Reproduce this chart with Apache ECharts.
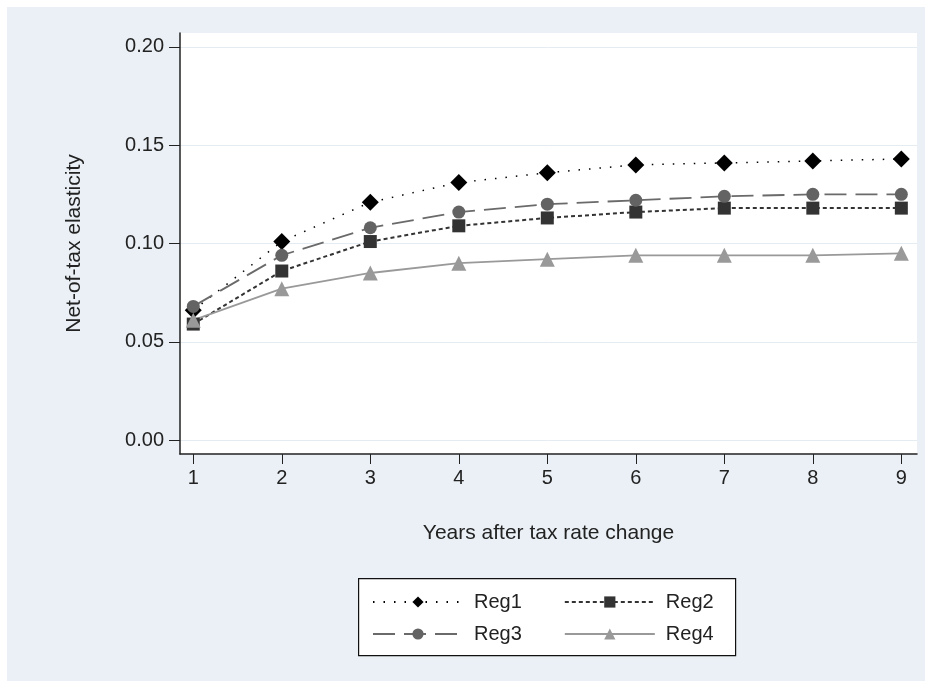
<!DOCTYPE html>
<html>
<head>
<meta charset="utf-8">
<script src="https://cdn.jsdelivr.net/npm/echarts@6/dist/echarts.min.js"></script>
<style>
  html, body { margin: 0; padding: 0; background: #fff; }
  #chart { position: absolute; left: 7px; top: 7px; width: 918px; height: 674px; }
</style>
</head>
<body>
<div id="chart"></div>
<script>
// values
const years = [1, 2, 3, 4, 5, 6, 7, 8, 9];
const reg1 = [0.066, 0.101, 0.121, 0.131, 0.136, 0.140, 0.141, 0.142, 0.143];
const reg2 = [0.059, 0.086, 0.101, 0.109, 0.113, 0.116, 0.118, 0.118, 0.118];
const reg3 = [0.068, 0.094, 0.108, 0.116, 0.120, 0.122, 0.124, 0.125, 0.125];
const reg4 = [0.061, 0.077, 0.085, 0.090, 0.092, 0.094, 0.094, 0.094, 0.095];
const yTicks = [0, 0.05, 0.10, 0.15, 0.20];

const font = 'Liberation Sans, Arial, sans-serif';
const pairs = vals => years.map((x, i) => [x, vals[i]]);

const myChart = echarts.init(document.getElementById('chart'));

// legend is two single-row legends inside one drawn box
const legendBase = {
    itemWidth: 90, itemHeight: 14, itemGap: 42,
    padding: 0,
    textStyle: { fontFamily: font, fontSize: 20, color: '#222', padding: [0, 0, 0, 6] }
};

const option = {
    backgroundColor: '#eaf0f5',
    animation: false,
    grid: {
        left: 173, top: 26, width: 737, height: 421,
        show: true, backgroundColor: '#fff', borderWidth: 0
    },
    graphic: [{
        type: 'rect', left: 351, top: 571, z: -1,
        shape: { width: 377, height: 77 },
        style: { fill: '#fff', stroke: '#111', lineWidth: 1.2 }
    }],
    xAxis: {
        type: 'value',
        min: 0.85, max: 9.177,
        name: 'Years after tax rate change',
        nameLocation: 'middle',
        nameGap: 69,
        nameTextStyle: { fontFamily: font, fontSize: 21, color: '#222' },
        axisLine: { show: true, onZero: false, lineStyle: { color: '#222', width: 1.5 } },
        axisTick: { show: true, length: 10, lineStyle: { color: '#222' }, customValues: years },
        axisLabel: { fontFamily: font, fontSize: 20, color: '#222', margin: 14, customValues: years },
        splitLine: { show: false }
    },
    yAxis: {
        type: 'value',
        min: -0.0071, max: 0.2071,
        name: 'Net-of-tax elasticity',
        nameLocation: 'middle',
        nameGap: 95,
        nameTextStyle: { fontFamily: font, fontSize: 21, color: '#222' },
        axisLine: { show: true, onZero: false, lineStyle: { color: '#222', width: 1.5 } },
        axisTick: { show: true, length: 11, lineStyle: { color: '#222' }, customValues: yTicks },
        axisLabel: {
            fontFamily: font, fontSize: 20, color: '#222', margin: 16,
            customValues: yTicks,
            formatter: v => v.toFixed(2)
        },
        splitLine: { show: true, lineStyle: { color: '#e4ecf2', width: 1 } }
    },
    legend: [
        Object.assign({ left: 365, top: 585, data: ['Reg1', 'Reg2'] }, legendBase),
        Object.assign({ left: 365, top: 617, data: ['Reg3', 'Reg4'] }, legendBase)
    ],
    series: [
        {
            name: 'Reg1', type: 'line', data: pairs(reg1),
            symbol: 'diamond', symbolSize: 17,
            itemStyle: { color: '#000' },
            lineStyle: { color: '#000', width: 1.5, type: [1.5, 9] }
        },
        {
            name: 'Reg2', type: 'line', data: pairs(reg2),
            symbol: 'rect', symbolSize: 13,
            itemStyle: { color: '#333' },
            lineStyle: { color: '#333', width: 2, type: [4, 3] }
        },
        {
            name: 'Reg3', type: 'line', data: pairs(reg3),
            symbol: 'circle', symbolSize: 13,
            itemStyle: { color: '#636363' },
            lineStyle: { color: '#6a6a6a', width: 1.8, type: [22, 9] }
        },
        {
            name: 'Reg4', type: 'line', data: pairs(reg4),
            symbol: 'triangle', symbolSize: 15,
            itemStyle: { color: '#999' },
            lineStyle: { color: '#999', width: 1.8 }
        }
    ]
};

option && myChart.setOption(option);
</script>
</body>
</html>
